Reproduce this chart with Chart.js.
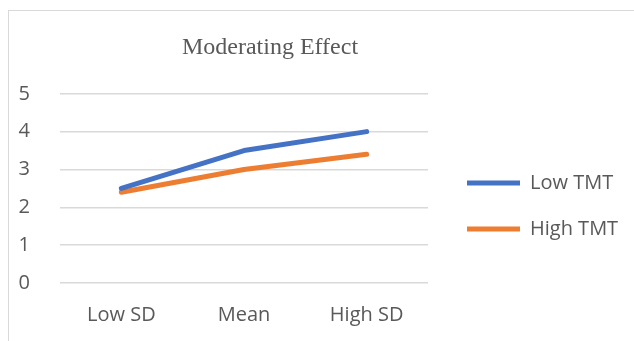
<!DOCTYPE html>
<html lang="en">
<head>
    <meta charset="UTF-8">
    <title>Moderating Effect</title>
    <style>
        body {
            margin: 0;
            background-color: #fff;
            overflow: hidden;
        }
        .frame {
            position: absolute;
            left: 8px;
            top: 10px;
            width: 700px;
            height: 400px;
            border: 1.5px solid #d9d9d9;
        }
        .wrap {
            position: absolute;
            left: 0;
            top: 0;
            width: 634px;
            height: 341px;
        }
    </style>
</head>
<body>
    <div class="frame"></div>
    <div class="wrap">
        <canvas id="chart"></canvas>
    </div>

    <script src="https://cdn.jsdelivr.net/npm/chart.js"></script>
    <script>
        const categories = ['Low SD', 'Mean', 'High SD'];
        const lowTMT = [2.5, 3.5, 4.0];
        const highTMT = [2.4, 3.0, 3.4];
        const yTicks = [0, 1, 2, 3, 4, 5];

        const textColor = '#595959';
        const sansFont = "'Open Sans', 'Liberation Sans', sans-serif";

        // gap between plot and legend, fixed legend width, and title centred left of the legend
        const excelLayout = {
            id: 'excelLayout',
            afterInit(chart) {
                Chart.layouts.addBox(chart, {
                    position: 'right',
                    weight: 0,
                    fullSize: false,
                    options: {},
                    left: 0, top: 0, right: 0, bottom: 0, width: 0, height: 0,
                    isHorizontal() { return false; },
                    update(maxWidth, maxHeight) {
                        this.width = 13;
                        this.height = maxHeight;
                    },
                    draw() {}
                });
                const legend = chart.legend;
                const fit = legend.fit.bind(legend);
                legend.fit = function () {
                    fit();
                    this.width = 193;
                };
            },
            afterLayout(chart) {
                const title = chart.titleBlock;
                title.right = 540;
                title.width = title.right - title.left;
                chart.legend.top += 26;
                chart.legend.bottom += 26;
            }
        };

        const ctx = document.getElementById('chart').getContext('2d');
        new Chart(ctx, {
            type: 'line',
            data: {
                labels: categories,
                datasets: [
                    {
                        label: 'Low TMT',
                        data: lowTMT,
                        borderColor: '#4472C4',
                        backgroundColor: '#4472C4',
                        borderWidth: 5,
                        borderCapStyle: 'round',
                        borderJoinStyle: 'round',
                        pointRadius: 0,
                        tension: 0,
                        fill: false
                    },
                    {
                        label: 'High TMT',
                        data: highTMT,
                        borderColor: '#ED7D31',
                        backgroundColor: '#ED7D31',
                        borderWidth: 5,
                        borderCapStyle: 'round',
                        borderJoinStyle: 'round',
                        pointRadius: 0,
                        tension: 0,
                        fill: false
                    }
                ]
            },
            plugins: [excelLayout],
            options: {
                responsive: true,
                maintainAspectRatio: false,
                animation: false,
                layout: {
                    padding: { left: 0, right: 0, top: 33, bottom: 14 }
                },
                plugins: {
                    title: {
                        display: true,
                        text: 'Moderating Effect',
                        color: textColor,
                        font: { family: "'Liberation Serif', serif", size: 24, weight: 'normal' },
                        padding: { top: 0, bottom: 32 }
                    },
                    legend: {
                        position: 'right',
                        labels: {
                            color: textColor,
                            font: { family: sansFont, size: 20 },
                            usePointStyle: true,
                            pointStyle: 'line',
                            pointStyleWidth: 53,
                            padding: 26
                        }
                    },
                    tooltip: { enabled: false }
                },
                scales: {
                    x: {
                        offset: true,
                        afterFit: axis => {
                            axis.height = 44;
                        },
                        grid: { display: false, drawTicks: false },
                        border: { display: false },
                        ticks: {
                            color: textColor,
                            font: { family: sansFont, size: 20 },
                            padding: 20
                        }
                    },
                    y: {
                        min: 0,
                        max: 5,
                        afterBuildTicks: axis => {
                            axis.ticks = yTicks.map(v => ({ value: v }));
                        },
                        afterFit: axis => {
                            axis.width = 60;
                        },
                        grid: { color: '#d9d9d9', lineWidth: 1.5, drawTicks: false },
                        border: { display: false },
                        ticks: {
                            color: textColor,
                            font: { family: sansFont, size: 20 },
                            padding: 30
                        }
                    }
                }
            }
        });
    </script>
</body>
</html>
